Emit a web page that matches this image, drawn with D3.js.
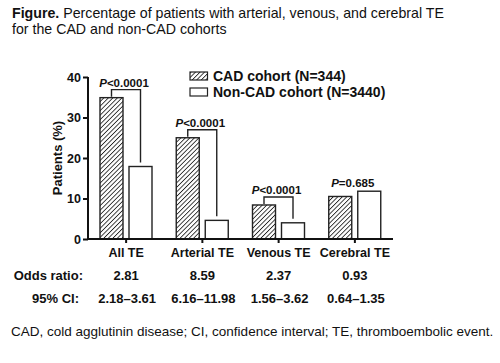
<!DOCTYPE html>
<html>
<head>
<meta charset="utf-8">
<script src="https://cdn.jsdelivr.net/npm/d3@7"></script>
<style>
  html, body { margin: 0; padding: 0; background: #fff; }
  svg { display: block; font-family: "Liberation Sans", Arial, Helvetica, sans-serif; }
</style>
</head>
<body>
<svg id="chart" width="500" height="363"></svg>
<script>
// ---- data ----
const categories = ["All TE", "Arterial TE", "Venous TE", "Cerebral TE"];
const seriesNames = ["CAD cohort (N=344)", "Non-CAD cohort (N=3440)"];
const cadValues = [34.9, 25.0, 8.4, 10.5];
const nonCadValues = [17.9, 4.6, 4.0, 11.8];
const pValues = ["<0.0001", "<0.0001", "<0.0001", "=0.685"];
const showBracket = [true, true, true, false];
const oddsRatios = ["2.81", "8.59", "2.37", "0.93"];
const ciValues = ["2.18\u20133.61", "6.16\u201311.98", "1.56\u20133.62", "0.64\u20131.35"];
const yTicks = [0, 10, 20, 30, 40];

const svg = d3.select("#chart");

// hatch pattern
const defs = svg.append("defs");
const pat = defs.append("pattern")
  .attr("id", "hatch").attr("patternUnits", "userSpaceOnUse")
  .attr("width", 3.2).attr("height", 3.2)
  .attr("patternTransform", "rotate(45)");
pat.append("rect").attr("width", 3.2).attr("height", 3.2).attr("fill", "#fff");
pat.append("line").attr("x1", 0).attr("y1", 0).attr("x2", 0).attr("y2", 3.2)
  .attr("stroke", "#222").attr("stroke-width", 1.7);

// title
const title = svg.append("text").attr("x", 12).attr("y", 18).attr("font-size", 14.2).attr("fill", "#111");
title.append("tspan").attr("font-weight", "bold").text("Figure.");
title.append("tspan").text(" Percentage of patients with arterial, venous, and cerebral TE");
svg.append("text").attr("x", 12).attr("y", 34).attr("font-size", 14.2).attr("fill", "#111")
  .text("for the CAD and non-CAD cohorts");

// scales
const x0 = d3.scaleBand().domain(categories).range([88, 393]);
const x1 = d3.scaleBand().domain(seriesNames).range([12, 64]).paddingInner(0.207);
const y = d3.scaleLinear().domain([0, 40]).range([239, 77]);

const g = svg.append("g");

// bars
const groups = g.selectAll("g.grp").data(categories).join("g")
  .attr("transform", d => `translate(${x0(d)},0)`);

groups.append("rect")
  .attr("x", x1(seriesNames[0]))
  .attr("y", (d, i) => y(cadValues[i]))
  .attr("width", x1.bandwidth())
  .attr("height", (d, i) => y(0) - y(cadValues[i]))
  .attr("fill", "url(#hatch)").attr("stroke", "#222").attr("stroke-width", 1.4);

groups.append("rect")
  .attr("x", x1(seriesNames[1]))
  .attr("y", (d, i) => y(nonCadValues[i]))
  .attr("width", x1.bandwidth())
  .attr("height", (d, i) => y(0) - y(nonCadValues[i]))
  .attr("fill", "#fff").attr("stroke", "#222").attr("stroke-width", 1.4);

// p-value brackets
categories.forEach((c, i) => {
  const cx1 = x0(c) + x1(seriesNames[0]) + x1.bandwidth() / 2;
  const cx2 = x0(c) + x1(seriesNames[1]) + x1.bandwidth() / 2;
  const top = Math.min(y(cadValues[i]), y(nonCadValues[i]));
  let textY;
  if (showBracket[i]) {
    const by = top - 8;
    g.append("path")
      .attr("d", `M${cx1},${y(cadValues[i]) - 1}V${by}H${cx2}V${y(nonCadValues[i]) - 4}`)
      .attr("fill", "none").attr("stroke", "#222").attr("stroke-width", 1.4);
    textY = by - 3;
  } else {
    textY = top - 4;
  }
  const t = g.append("text").attr("x", (cx1 + cx2) / 2 - 2).attr("y", textY)
    .attr("text-anchor", "middle").attr("font-size", 11.5).attr("font-weight", "bold").attr("fill", "#111");
  t.append("tspan").attr("font-style", "italic").text("P");
  t.append("tspan").text(pValues[i]);
});

// axes
const yAxis = g.append("g").attr("transform", "translate(88,0)")
  .call(d3.axisLeft(y).tickValues(yTicks).tickSize(5).tickPadding(2));
const xAxis = g.append("g").attr("transform", "translate(0,239)")
  .call(d3.axisBottom(x0).tickSize(4).tickPadding(5).tickSizeOuter(0));
[yAxis, xAxis].forEach(a => {
  a.select(".domain").attr("stroke", "#111").attr("stroke-width", 2);
  a.selectAll(".tick line").attr("stroke", "#111").attr("stroke-width", 2);
  a.selectAll("text").attr("font-family", "Liberation Sans, Arial, sans-serif")
    .attr("font-weight", "bold").attr("font-size", 12.5).attr("fill", "#111");
});
yAxis.select(".domain").attr("d", `M0,${y(40)}V${y(0)}`);
xAxis.select(".domain").attr("d", `M88,0H393`);

// y label
svg.append("text").attr("transform", "translate(62,158) rotate(-90)")
  .attr("text-anchor", "middle").attr("font-size", 13).attr("font-weight", "bold").attr("fill", "#111")
  .text("Patients (%)");

// legend
const legend = svg.append("g");
seriesNames.forEach((s, i) => {
  const ly = 72 + i * 16;
  legend.append("rect").attr("x", 190).attr("y", ly).attr("width", 17.5).attr("height", 8)
    .attr("fill", i === 0 ? "url(#hatch)" : "#fff").attr("stroke", "#222").attr("stroke-width", 1.2);
  legend.append("text").attr("x", 213).attr("y", ly + 9).attr("font-size", 14).attr("font-weight", "bold")
    .attr("fill", "#111").text(s);
});

// odds ratio & CI rows
svg.append("text").attr("x", 83).attr("y", 280).attr("text-anchor", "end")
  .attr("font-size", 13).attr("font-weight", "bold").attr("fill", "#111").text("Odds ratio:");
svg.append("text").attr("x", 79).attr("y", 303).attr("text-anchor", "end")
  .attr("font-size", 13).attr("font-weight", "bold").attr("fill", "#111").text("95% CI:");
categories.forEach((c, i) => {
  const cx = x0(c) + x0.bandwidth() / 2;
  svg.append("text").attr("x", cx).attr("y", 280).attr("text-anchor", "middle")
    .attr("font-size", 13).attr("font-weight", "bold").attr("fill", "#111").text(oddsRatios[i]);
  svg.append("text").attr("x", cx + 1).attr("y", 303).attr("text-anchor", "middle")
    .attr("font-size", 13).attr("font-weight", "bold").attr("fill", "#111").text(ciValues[i]);
});

// footnote
svg.append("text").attr("x", 11).attr("y", 336).attr("font-size", 13.5).attr("fill", "#111")
  .text("CAD, cold agglutinin disease; CI, confidence interval; TE, thromboembolic event.");
</script>
</body>
</html>
